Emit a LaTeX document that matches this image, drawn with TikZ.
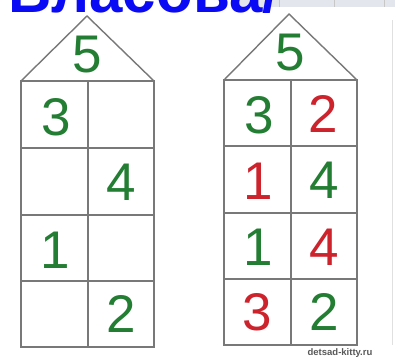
\documentclass[tikz,border=0pt]{standalone}
\usepackage{fontspec}
\setmainfont{Liberation Sans}
\usepackage{tikz}
\usepackage{xcolor}
\usetikzlibrary{positioning}
\definecolor{mygreen}{RGB}{35,125,50}
\definecolor{myred}{RGB}{205,35,45}
\definecolor{myblue}{RGB}{10,10,245}
\definecolor{mygray}{RGB}{120,120,120}
\definecolor{slidegray}{RGB}{228,230,238}

\begin{document}
\begin{tikzpicture}[x=1pt,y=-1pt,
    wall/.style={mygray,line width=1.4pt},
    num/.style={font=\fontsize{53}{53}\selectfont,inner sep=0pt}]
  \useasboundingbox (0,0) rectangle (395,361);
  \fill[white] (0,0) rectangle (395,361);
  % slide behind the picture
  \fill[slidegray] (240,0) rectangle (395,7);
  \foreach \x in {279,334,384}
    \draw[black!22,line width=1pt] (\x,0) -- (\x,7);
  \draw[black!12,line width=0.8pt] (392,20) -- (392,345);
  \begin{scope}
    \clip (0,0) rectangle (395,13);
    \node[anchor=base west,inner sep=0pt,myblue,
      font=\bfseries\fontsize{60}{60}\selectfont] (title) at (8,13) {Власова/};
  \end{scope}
  % left house
  \draw[wall] (21,81) -- (87,16) -- (154,81);
  \draw[wall] (21,81) rectangle (154,347);
  \draw[wall] (88,81) -- (88,347);
  \foreach \y in {148,215,281}
    \draw[wall] (21,\y) -- (154,\y);
  \node[num,mygreen] (l5) at (87,55) {5};
  \node[num,mygreen] (l3) at (56,117) {3};
  \node[num,mygreen] (l4) at (121,182) {4};
  \node[num,mygreen] (l1) at (55,250) {1};
  \node[num,mygreen] (l2) at (121,314) {2};
  % right house
  \draw[wall] (224,80) -- (289,14) -- (357,80);
  \draw[wall] (224,80) rectangle (357,345);
  \draw[wall] (291,80) -- (291,345);
  \foreach \y in {146,213,279}
    \draw[wall] (224,\y) -- (357,\y);
  \node[num,mygreen] (r5) at (290,53) {5};
  \node[num,mygreen] (r3a) at (259,115) {3};
  \node[num,myred] (r2a) at (323,114) {2};
  \node[num,myred] (r1a) at (258,181) {1};
  \node[num,mygreen] (r4a) at (324,180) {4};
  \node[num,mygreen] (r1b) at (258,247) {1};
  \node[num,myred] (r4b) at (324,247) {4};
  \node[num,myred] (r3b) at (257,312) {3};
  \node[num,mygreen] (r2b) at (324,312) {2};
  \node[font=\bfseries\fontsize{9.5}{9.5}\selectfont,black!65] (mark) at (340,353) {detsad-kitty.ru};
\end{tikzpicture}
\end{document}
